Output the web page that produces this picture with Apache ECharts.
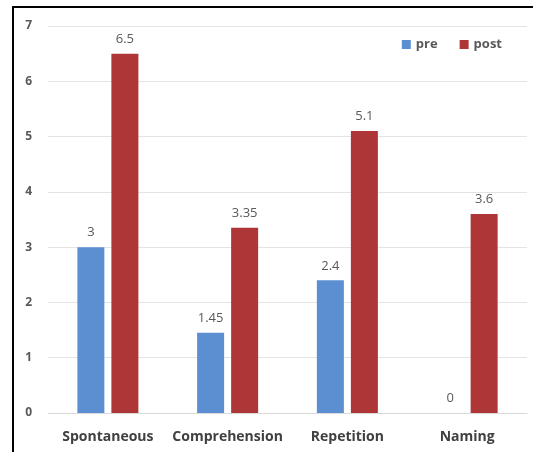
<!DOCTYPE html>
<html>
<head>
<meta charset="utf-8">
<script src="https://cdn.jsdelivr.net/npm/echarts@6/dist/echarts.min.js"></script>
<style>
  html, body { margin: 0; padding: 0; background: #fff; }
  #chart { width: 533px; height: 452px; }
</style>
</head>
<body>
<div id="chart"></div>
<script>
const categories = ['Spontaneous', 'Comprehension', 'Repetition', 'Naming'];
const preValues = [3, 1.45, 2.4, 0];
const postValues = [6.5, 3.35, 5.1, 3.6];
const seriesNames = ['pre', 'post'];

const chart = echarts.init(document.getElementById('chart'), null, { renderer: 'canvas' });

const labelStyle = {
  show: true,
  position: 'top',
  distance: 8,
  color: '#595959',
  fontSize: 13,
  fontFamily: 'Open Sans'
};

chart.setOption({
  animation: false,
  backgroundColor: '#fff',
  graphic: [{
    type: 'polyline',
    shape: { points: [[13, 452], [13, 7], [533, 7]] },
    style: { stroke: '#000', lineWidth: 2, fill: null },
    silent: true
  }],
  legend: {
    data: seriesNames,
    top: 33,
    right: 26,
    itemWidth: 9,
    itemHeight: 9,
    itemGap: 22,
    icon: 'rect',
    textStyle: { color: '#595959', fontSize: 13, fontWeight: 'bold', fontFamily: 'Open Sans' }
  },
  grid: { left: 48, right: 6, top: 26, bottom: 39 },
  xAxis: {
    type: 'category',
    data: categories,
    axisLine: { lineStyle: { color: '#d9d9d9' } },
    axisTick: { show: false },
    axisLabel: {
      interval: 0,
      hideOverlap: false,
      color: '#404040',
      fontSize: 14,
      fontWeight: 'bold',
      fontFamily: 'Open Sans',
      margin: 17
    }
  },
  yAxis: {
    type: 'value',
    min: 0,
    max: 7,
    interval: 1,
    axisLine: { show: false },
    axisTick: { show: false },
    splitLine: { lineStyle: { color: '#e4e4e4' } },
    axisLabel: { color: '#595959', fontSize: 12, fontWeight: 'bold', fontFamily: 'Open Sans', margin: 16 }
  },
  series: [
    {
      name: seriesNames[0],
      type: 'bar',
      data: preValues,
      barWidth: 27,
      barGap: '26%',
      itemStyle: { color: '#5b8fd2' },
      label: labelStyle
    },
    {
      name: seriesNames[1],
      type: 'bar',
      data: postValues,
      barWidth: 27,
      barGap: '26%',
      itemStyle: { color: '#ae3636' },
      label: labelStyle
    }
  ]
});
</script>
</body>
</html>
